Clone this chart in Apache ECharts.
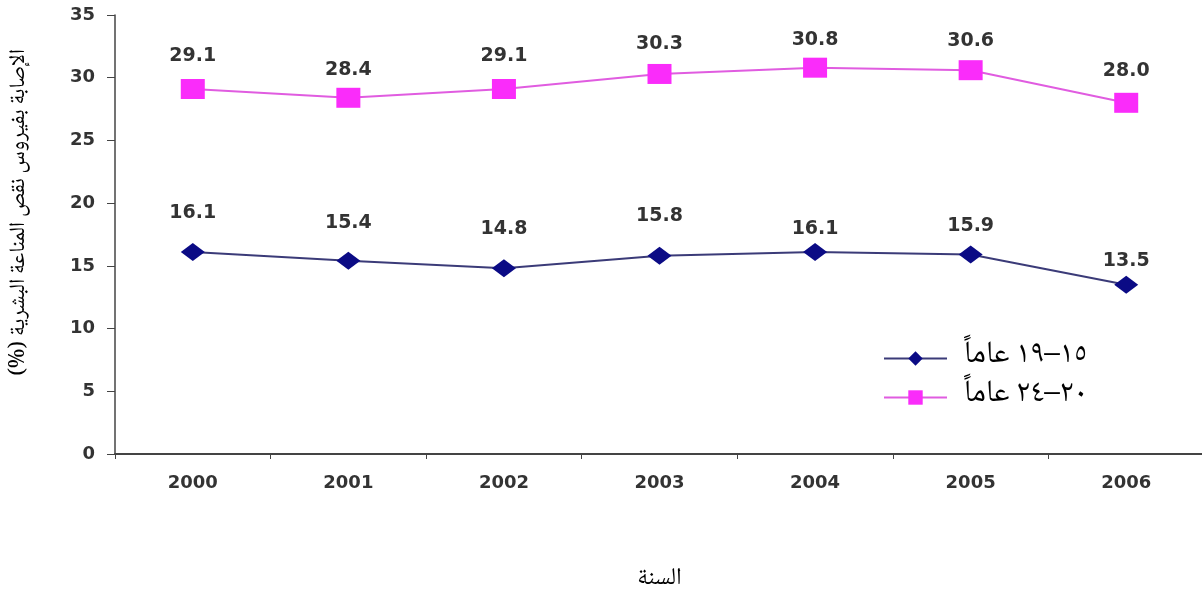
<!DOCTYPE html>
<html>
<head>
<meta charset="utf-8">
<script src="https://cdn.jsdelivr.net/npm/echarts@6/dist/echarts.min.js"></script>
<style>
html,body{margin:0;padding:0;background:#fff;}
#chart{width:1202px;height:594px;}
</style>
</head>
<body>
<div id="chart" dir="rtl"></div>
<script>
// ---- data ----
var years = ['2000', '2001', '2002', '2003', '2004', '2005', '2006'];
var age15to19 = [16.1, 15.4, 14.8, 15.8, 16.1, 15.9, 13.5];
var age20to24 = [29.1, 28.4, 29.1, 30.3, 30.8, 30.6, 28.0];
var seriesNames = ['١٥–١٩ عاماً', '٢٠–٢٤ عاماً'];
var yAxisTitle = 'الإصابة بفيروس نقص المناعة البشرية (%)';
var xAxisTitle = 'السنة';

// ---- label placement (style only) ----
var liftLow = [20, 19, 21, 21, 4, 10, 5];
var liftHigh = [13, 8, 13, 10, 8, 10, 12];

var arabicFont = "'Noto Naskh Arabic','Amiri','Noto Sans Arabic','DejaVu Sans',serif";
var numFont = "'DejaVu Sans',Arial,sans-serif";

function items(vals, lifts) {
  return vals.map(function (v, i) {
    return { value: v, label: { distance: lifts[i] } };
  });
}

var chart = echarts.init(document.getElementById('chart'), null, { renderer: 'canvas' });
chart.setOption({
  animation: false,
  backgroundColor: '#ffffff',
  grid: { left: 115, right: -2, top: 15, bottom: 140, containLabel: false, outerBoundsMode: 'none' },
  legend: {
    orient: 'vertical',
    left: 878,
    top: 338,
    itemWidth: 63,
    itemHeight: 18,
    itemGap: 8,
    align: 'left',
    textStyle: { fontFamily: arabicFont, fontSize: 31, color: '#000', padding: [0, 0, 0, 12] },
    data: seriesNames
  },
  xAxis: {
    type: 'category',
    data: years,
    boundaryGap: true,
    name: xAxisTitle,
    nameLocation: 'middle',
    nameGap: 115,
    nameTextStyle: { fontFamily: arabicFont, fontSize: 24, color: '#000' },
    axisLine: { lineStyle: { color: '#444', width: 2 } },
    axisTick: { show: true, length: 5, inside: false, lineStyle: { color: '#444', width: 1 } },
    axisLabel: { margin: 20, fontFamily: numFont, fontWeight: 'bold', fontSize: 18, color: '#333' },
    splitLine: { show: false }
  },
  yAxis: {
    type: 'value',
    min: 0,
    max: 35,
    interval: 5,
    name: yAxisTitle,
    nameLocation: 'middle',
    nameRotate: 90,
    nameGap: 83,
    nameTextStyle: { fontFamily: arabicFont, fontSize: 22, color: '#000', padding: [0, 0, 0, 44] },
    axisLine: { show: true, lineStyle: { color: '#444', width: 1.5 } },
    axisTick: { show: true, length: 8, lineStyle: { color: '#444', width: 1 } },
    axisLabel: { margin: 20, fontFamily: numFont, fontWeight: 'bold', fontSize: 18, color: '#333' },
    splitLine: { show: false }
  },
  series: [
    {
      name: seriesNames[0],
      type: 'line',
      data: items(age15to19, liftLow),
      symbol: 'diamond',
      symbolSize: [24, 18],
      itemStyle: { color: '#0b0b85' },
      lineStyle: { color: '#3b3b78', width: 2 },
      label: { show: true, position: 'top', fontFamily: numFont, fontWeight: 'bold', fontSize: 19, color: '#333',
        formatter: function (p) { return p.value.toFixed(1); } }
    },
    {
      name: seriesNames[1],
      type: 'line',
      data: items(age20to24, liftHigh),
      symbol: 'rect',
      symbolSize: [24, 20],
      itemStyle: { color: '#fa2cfa' },
      lineStyle: { color: '#e05ce0', width: 2 },
      label: { show: true, position: 'top', fontFamily: numFont, fontWeight: 'bold', fontSize: 19, color: '#333',
        formatter: function (p) { return p.value.toFixed(1); } }
    }
  ]
});
</script>
</body>
</html>
